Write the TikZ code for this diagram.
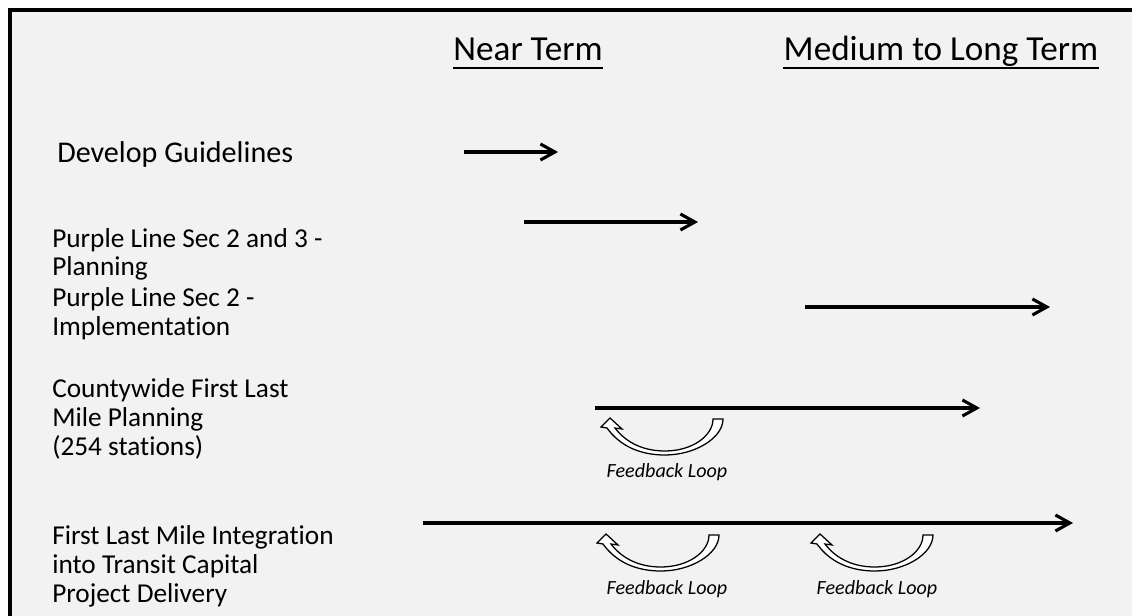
\documentclass[tikz,border=0pt]{standalone}
\usepackage{fontspec}
\setmainfont{Carlito}[Ligatures=NoCommon]
\usetikzlibrary{arrows.meta,calc}
\definecolor{slidegray}{RGB}{242,242,242}
\tikzset{
	heading/.style={font=\fontsize{25}{29}\selectfont, inner sep=0pt, anchor=base},
	task/.style={font=\fontsize{19.4}{20.6}\selectfont, align=left, inner sep=0pt, anchor=base west},
	bar/.style={line width=2.2pt, -{Straight Barb[length=3.6mm,width=4mm]}},
	looptext/.style={font=\fontsize{14.3}{17}\selectfont\itshape, inner sep=0pt},
	fbloop/.pic={
		\draw[line width=0.9pt, fill=white] (10,0) -- (1,9) -- (7,10) .. controls (20,28) and (40,37) .. (65,37) .. controls (95,37) and (123,20) .. (123,1) -- (113,1) .. controls (113,18) and (92,33) .. (65,33) .. controls (40,33) and (24,22) .. (15,10) -- (22,11) -- cycle;
	}
}

\begin{document}
\begin{tikzpicture}[x=0.025cm, y=-0.025cm]
			\useasboundingbox (0,0) rectangle (1132,616);
			\fill[white] (0,0) rectangle (1132,616);
			\fill[slidegray] (10,10) rectangle (1132,616);
			\draw[line width=2.8pt] (1132,10) -- (10,10) -- (10,616);
			
			\node[heading] (near) at (528,61) {Near Term};
			\node[heading] (long) at (941,61) {Medium to Long Term};
			\draw[line width=1.4pt] ($(near.base west)+(0,7)$) -- ($(near.base east)+(0,7)$);
			\draw[line width=1.4pt] ($(long.base west)+(0,7)$) -- ($(long.base east)+(0,7)$);
			
			\node[task, font=\fontsize{21.4}{24}\selectfont] (guide) at (57,163) {Develop Guidelines};
			\node[task] (plan) at (52,276) {Purple Line Sec 2 and 3 -\\Planning};
			\node[task] (impl) at (52,335) {Purple Line Sec 2 -\\Implementation};
			\node[task] (county) at (52,455) {Countywide First Last\\Mile Planning\\(254 stations)};
			\node[task] (integ) at (52,602) {First Last Mile Integration\\into Transit Capital\\Project Delivery};
			
			\coordinate (guide-s) at (464,152);
			\coordinate (guide-e) at (558,152);
			\coordinate (plan-s) at (524,222);
			\coordinate (plan-e) at (698,222);
			\coordinate (impl-s) at (805,307);
			\coordinate (impl-e) at (1050,307);
			\coordinate (county-s) at (595,408);
			\coordinate (county-e) at (980,408);
			\coordinate (integ-s) at (423,523);
			\coordinate (integ-e) at (1073,523);
			\draw[bar] (guide-s) -- (guide-e);
			\draw[bar] (plan-s) -- (plan-e);
			\draw[bar] (impl-s) -- (impl-e);
			\draw[bar] (county-s) -- (county-e);
			\draw[bar] (integ-s) -- (integ-e);
			
			\pic at (600,418) {fbloop};
			\pic at (596,534) {fbloop};
			\pic at (810,534) {fbloop};
			\node[looptext] (fb1) at (667,472) {Feedback Loop};
			\node[looptext] (fb2) at (667,589) {Feedback Loop};
			\node[looptext] (fb3) at (877,589) {Feedback Loop};
\end{tikzpicture}
\end{document}
